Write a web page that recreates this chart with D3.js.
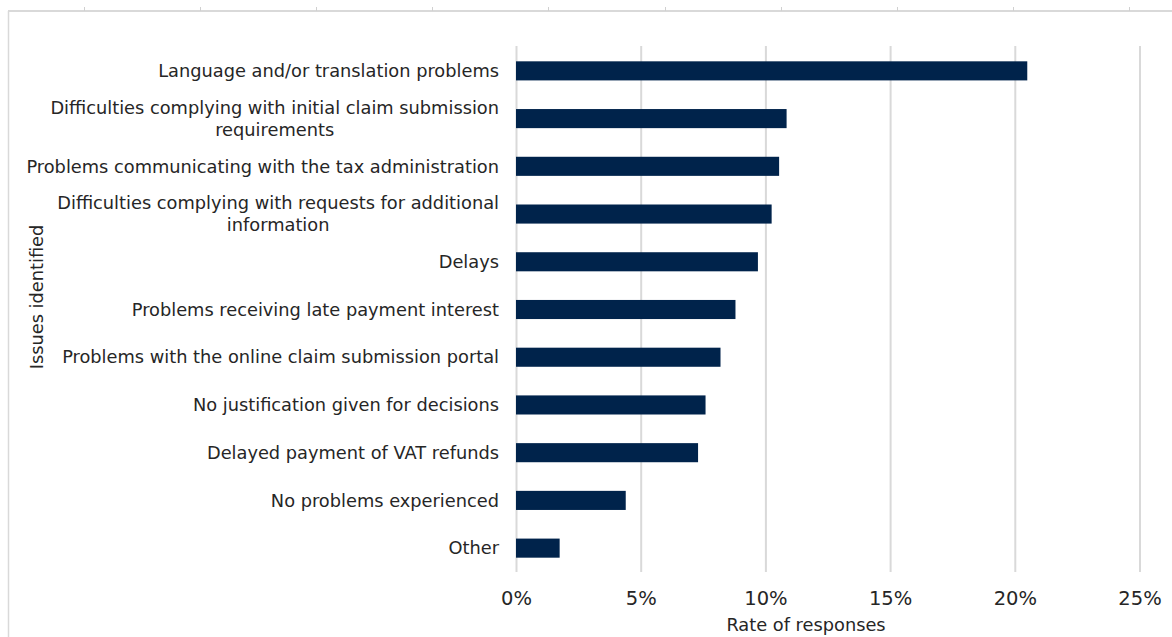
<!DOCTYPE html>
<html><head><meta charset="utf-8">
<script src="https://cdn.jsdelivr.net/npm/d3@7"></script>
<style>body{margin:0;background:#fff;} text{font-family:"DejaVu Sans",Verdana,sans-serif;}</style>
</head><body>
<svg id="c" width="1172" height="637"></svg>
<script>
const categories = [
  ["Language and/or translation problems"],
  ["Difficulties complying with initial claim submission", "requirements"],
  ["Problems communicating with the tax administration"],
  ["Difficulties complying with requests for additional", "information"],
  ["Delays"],
  ["Problems receiving late payment interest"],
  ["Problems with the online claim submission portal"],
  ["No justification given for decisions"],
  ["Delayed payment of VAT refunds"],
  ["No problems experienced"],
  ["Other"]
];
const values = [20.5, 10.85, 10.55, 10.25, 9.7, 8.8, 8.2, 7.6, 7.3, 4.4, 1.75];
const xTicks = [0, 5, 10, 15, 20, 25];
const frameTicks = [0,1,2,3,4,5,6,7,8,9];

const svg = d3.select("#c");
const margin = {left: 516, right: 33, top: 47, bottom: 65};
const W = 1172, H = 637;
const x = d3.scaleLinear().domain([0, 25]).range([margin.left, W - margin.right + 0.5]);
const y = d3.scaleBand().domain(d3.range(categories.length)).range([margin.top, 572]).paddingInner(0.6).paddingOuter(0.3);

// frame artefact at top/left
const ft = d3.scaleLinear().domain([0, 9]).range([84, 1129]);
svg.append("line").attr("x1", 8).attr("x2", W).attr("y1", 11).attr("y2", 11).attr("stroke", "#d9d9d9").attr("stroke-width", 2);
svg.append("line").attr("x1", 8.5).attr("x2", 8.5).attr("y1", 11).attr("y2", H).attr("stroke", "#d9d9d9").attr("stroke-width", 1.5);
svg.selectAll("line.ft").data(frameTicks).join("line").attr("class","ft")
  .attr("x1", d => Math.round(ft(d)) + 0.5).attr("x2", d => Math.round(ft(d)) + 0.5)
  .attr("y1", 7).attr("y2", 11).attr("stroke", "#d0d0d0");

// gridlines
const gx = d3.axisBottom(x).tickValues(xTicks).tickSize(-(572 - 46)).tickFormat(d => d + "%").tickPadding(14);
const ga = svg.append("g").attr("transform", "translate(0,572)").call(gx);
ga.select(".domain").remove();
ga.selectAll(".tick line").attr("stroke", "#d9d9d9").attr("stroke-width", 2);
ga.selectAll(".tick text").attr("fill", "#262626").style("font-size", "19.5px").attr("dy", "0.95em");

// bars
svg.selectAll("rect.bar").data(values).join("rect").attr("class", "bar")
  .attr("x", x(0)).attr("y", (d, i) => y(i))
  .attr("width", d => x(d) - x(0)).attr("height", y.bandwidth())
  .attr("fill", "#00234b");

// category labels
const lab = svg.append("g");
categories.forEach((lines, i) => {
  const cy = y(i) + y.bandwidth() / 2;
  const lh = 22;
  const g = lab.append("g");
  const ts = lines.map((t, j) => g.append("text").text(t)
      .attr("y", cy + (j - (lines.length - 1) / 2) * lh).attr("dy", "0.35em")
      .attr("fill", "#262626").style("font-size", "17.8px"));
  if (lines.length === 1) {
    ts[0].attr("x", 499).attr("text-anchor", "end");
  } else {
    const mw = d3.max(ts, t => t.node().getComputedTextLength());
    ts.forEach(t => t.attr("x", 499 - mw / 2).attr("text-anchor", "middle"));
  }
});

// axis titles
svg.append("text").attr("x", 806).attr("y", 631).attr("text-anchor", "middle")
  .attr("fill", "#262626").style("font-size", "17.8px").text("Rate of responses");
svg.append("text").attr("transform", "translate(43,297) rotate(-90)").attr("text-anchor", "middle")
  .attr("fill", "#262626").style("font-size", "17.8px").text("Issues identified");
</script>
</body></html>
